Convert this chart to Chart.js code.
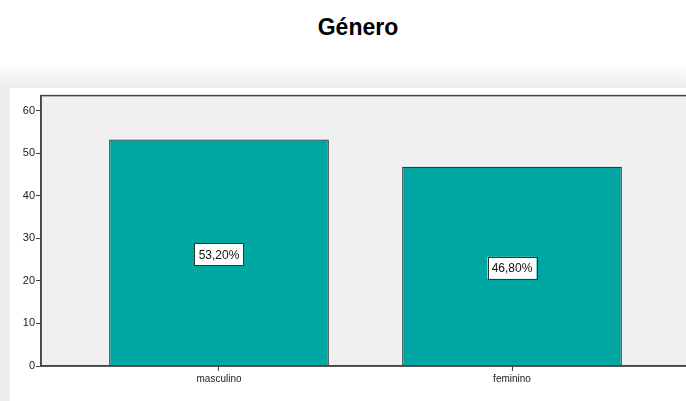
<!DOCTYPE html>
<html>
<head>
<meta charset="utf-8">
<script src="https://cdn.jsdelivr.net/npm/chart.js@4"></script>
<style>
  html, body { margin:0; padding:0; background:#ffffff; }
  #wrap { position:relative; width:686px; height:401px; overflow:hidden; background:#ffffff; }
  #title { position:absolute; left:0; top:14px; width:716px; text-align:center;
           font-family:"Liberation Sans", Arial, sans-serif; font-weight:bold; font-size:23px; color:#000; }
  #band { position:absolute; left:0; top:62px; width:686px; height:26px;
          background:linear-gradient(#ffffff, #ededed); }
  #strip { position:absolute; left:0; top:88px; width:10px; height:313px; background:#eeeeee; }
  #cv { position:absolute; left:10px; top:88px; }
</style>
</head>
<body>
<div id="wrap">
  <div id="band"></div>
  <div id="strip"></div>
  <div id="title">Género</div>
  <canvas id="cv" width="690" height="313" style="width:690px;height:313px;"></canvas>
</div>
<script>
const categories = ["masculino", "feminino"];
const values = [53.2, 46.8];
const valueLabels = ["53,20%", "46,80%"];
const yTicks = [0, 10, 20, 30, 40, 50, 60];

const plotBg = {
  id: 'plotBg',
  beforeDraw(chart) {
    const {ctx, chartArea:a} = chart;
    ctx.save();
    ctx.fillStyle = '#f0f0f0';
    ctx.fillRect(a.left, a.top, a.right - a.left, a.bottom - a.top);
    ctx.restore();
  },
  afterDatasetsDraw(chart) {
    const {ctx, chartArea:a} = chart;
    ctx.save();
    ctx.strokeStyle = '#444';
    ctx.lineWidth = 1.5;
    ctx.strokeRect(a.left, a.top, a.right - a.left, a.bottom - a.top);
    const meta = chart.getDatasetMeta(0);
    const ys = chart.scales.y;
    ctx.font = '12px "Liberation Sans", Arial, sans-serif';
    ctx.textAlign = 'center';
    ctx.textBaseline = 'middle';
    meta.data.forEach((bar, i) => {
      const cx = bar.x;
      const cy = ys.getPixelForValue(values[i] / 2) + 1.5;
      const w = 49, h = 22;
      ctx.fillStyle = '#ffffff';
      ctx.fillRect(cx - w/2, cy - h/2, w, h);
      ctx.strokeStyle = '#333';
      ctx.lineWidth = 1;
      ctx.strokeRect(Math.round(cx - w/2) + 0.5, Math.round(cy - h/2) + 0.5, w, h);
      ctx.fillStyle = '#111';
      ctx.fillText(valueLabels[i], cx, cy + 1);
    });
    ctx.restore();
  }
};

new Chart(document.getElementById('cv'), {
  type: 'bar',
  data: {
    datasets: [{
      data: values.map((v, i) => ({x: i, y: v})),
      backgroundColor: '#00a6a2',
      borderColor: '#2f3b3b',
      borderWidth: 1.2,
      barPercentage: 0.75,
      categoryPercentage: 1.0
    }]
  },
  options: {
    responsive: false,
    animation: false,
    layout: { padding: { top: 7, right: 10, left: 0, bottom: 0 } },
    plugins: { legend: { display: false }, tooltip: { enabled: false }, title: { display: false } },
    scales: {
      x: {
        type: 'linear',
        offset: false,
        min: -0.6075,
        max: 1.6075,
        afterBuildTicks(s) { s.ticks = categories.map((c, i) => ({value: i})); },
        afterFit(s) { s.height = 35; },
        ticks: {
          callback: (v) => categories[v],
          color: '#222',
          font: { family: '"Liberation Sans", Arial, sans-serif', size: 10 },
          padding: 2,
          maxRotation: 0,
          autoSkip: false
        },
        grid: { offset: false, drawOnChartArea: false, drawTicks: true, tickLength: 5, color: '#444' },
        border: { display: true, color: '#444', width: 1.5 }
      },
      y: {
        min: 0,
        max: 63.5,
        afterBuildTicks(s) { s.ticks = yTicks.map(v => ({value: v})); },
        afterFit(s) { s.width = 31; },
        ticks: {
          color: '#222',
          font: { family: '"Liberation Sans", Arial, sans-serif', size: 11 },
          padding: 1
        },
        grid: { drawOnChartArea: false, drawTicks: true, tickLength: 5, color: '#444' },
        border: { display: true, color: '#444', width: 1.5 }
      }
    }
  },
  plugins: [plotBg]
});
</script>
</body>
</html>
